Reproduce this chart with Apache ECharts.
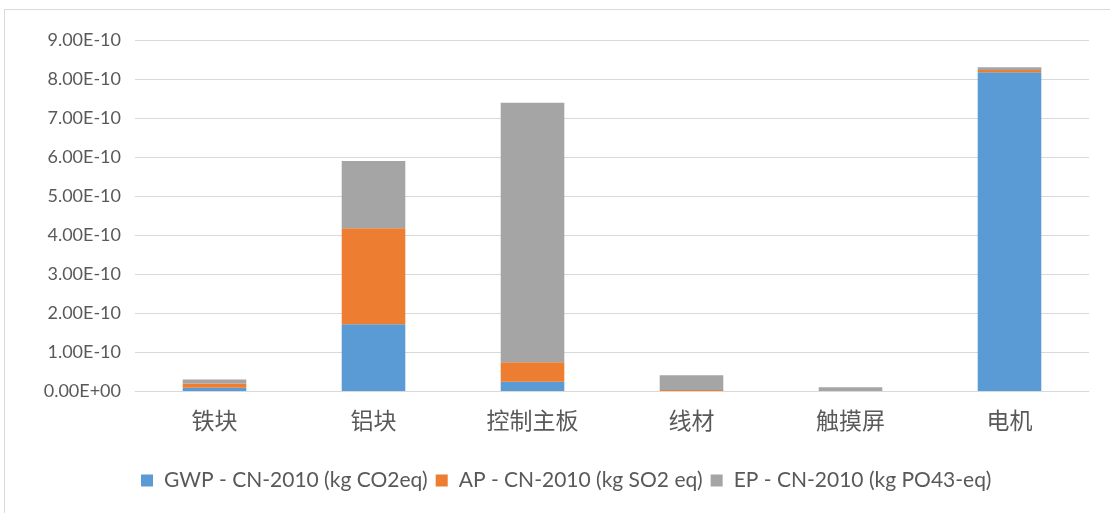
<!DOCTYPE html>
<html><head><meta charset="utf-8">
<script src="https://cdn.jsdelivr.net/npm/echarts@6/dist/echarts.min.js"></script>
<style>html,body{margin:0;padding:0;background:#fff}#c{width:1110px;height:513px}</style>
</head><body><div id="c"></div>
<script>
const categories = ['铁块','铝块','控制主板','线材','触摸屏','电机'];
const seriesNames = ['GWP - CN-2010 (kg CO2eq)','AP - CN-2010 (kg SO2 eq)','EP - CN-2010 (kg PO43-eq)'];
const gwp = [8.5e-12, 1.71e-10, 2.4e-11, 1e-13, 0, 8.17e-10];
const ap  = [1.1e-11, 2.46e-10, 5.0e-11, 2.5e-12, 0, 6e-12];
const ep  = [1.0e-11, 1.73e-10, 6.65e-10, 3.8e-11, 9.5e-12, 7e-12];
const yMax = 9e-10, yStep = 1e-10;

function fmt(v){
  let s = Number(v).toExponential(2).toUpperCase();
  return s.replace(/E([+-])(\d)$/, 'E$10$2');
}
const colors = ['#5B9BD5','#ED7D31','#A5A5A5'];
const data = [gwp, ap, ep];
const chart = echarts.init(document.getElementById('c'));
chart.setOption({
  animation:false,
  color: colors,
  graphic:[{type:'rect',shape:{x:4.5,y:9.5,width:1120,height:520},style:{fill:'none',stroke:'#d9d9d9',lineWidth:1},silent:true}],
  grid:{left:135,right:21,top:40,bottom:122},
  legend:{top:465,left:136,itemWidth:12,itemHeight:12,itemGap:8,icon:'rect',
    textStyle:{fontFamily:'Lato',fontSize:21,color:'#595959',padding:[0,0,0,6]}},
  xAxis:{type:'category',data:categories,
    axisLine:{lineStyle:{color:'#d9d9d9',width:1}},axisTick:{show:false},
    axisLabel:{fontFamily:'Noto Sans CJK SC',fontSize:23,color:'#595959',margin:18}},
  yAxis:{type:'value',min:0,max:yMax,interval:yStep,
    axisLine:{show:false},axisTick:{show:false},
    splitLine:{lineStyle:{color:'#d9d9d9',width:1}},
    axisLabel:{fontFamily:'Lato',fontSize:18,color:'#595959',margin:14,formatter:fmt}},
  series: seriesNames.map((n,i)=>({name:n,type:'bar',stack:'s',data:data[i],barWidth:'40%'}))
});
</script></body></html>
